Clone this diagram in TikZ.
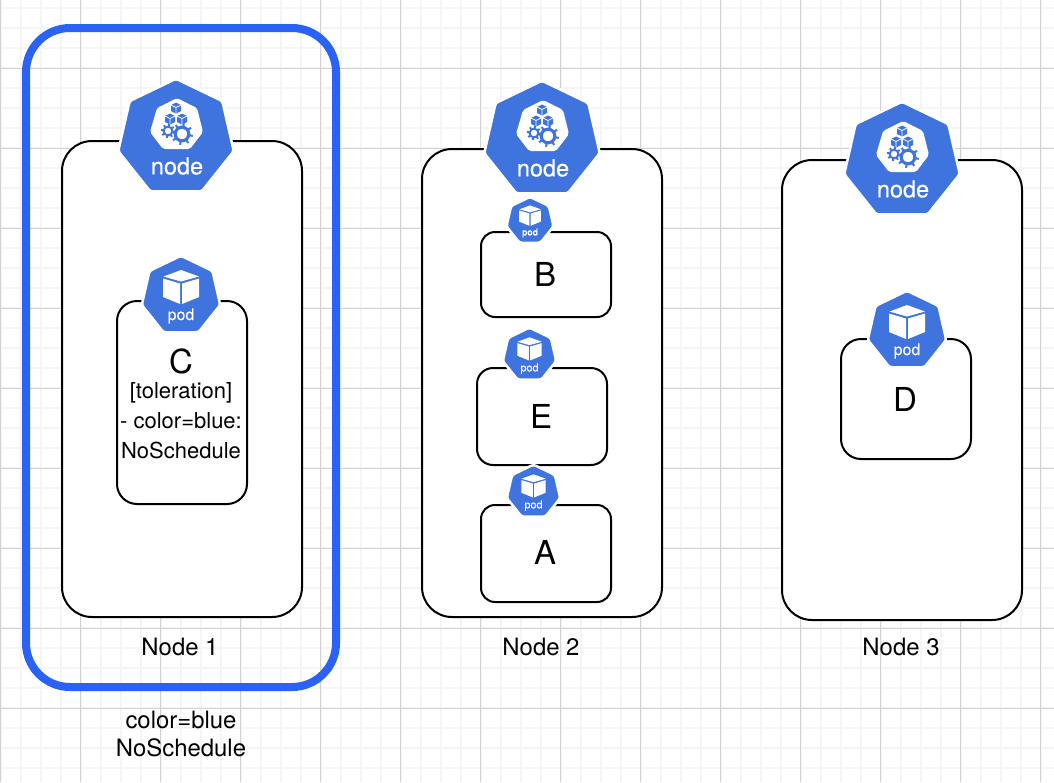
\documentclass[tikz,border=0pt]{standalone}
\usepackage{fontspec}
\setmainfont{TeX Gyre Heros}
\newfontfamily\kubefont[FakeBold=0.35]{TeX Gyre Heros}
\usetikzlibrary{shapes.geometric}
\definecolor{kubeblue}{HTML}{3F73DD}
\definecolor{taintblue}{HTML}{2A62F6}
\definecolor{gridmajor}{HTML}{D2D2D2}
\definecolor{gridminor}{HTML}{F5F5F5}
\tikzset{
  nodebox/.style={draw=black,fill=white,line width=2pt,rounded corners=30pt,minimum width=240pt,inner sep=0pt},
  podbox/.style={draw=black,fill=white,line width=2pt,rounded corners=#1,minimum width=130pt,inner sep=0pt},
  taintbox/.style={draw=taintblue,line width=8pt,rounded corners=44pt,minimum width=310pt,minimum height=659pt,inner sep=0pt},
  caption/.style={font=\fontsize{23.9}{28}\selectfont,align=center,inner sep=0pt},
  podname/.style={font=\fontsize{33}{38}\selectfont,inner sep=0pt},
  kubehex/.style={regular polygon,regular polygon sides=7,draw=white,fill=kubeblue,line width=2.5pt,rounded corners=2.5pt,inner sep=0pt,transform shape},
  kubetext/.style={text=white,inner sep=0pt,transform shape},
  smallcube/.pic={
    \fill[kubeblue] (0,-5.5) -- (5,-3) -- (5,3) -- (0,5.5) -- (-5,3) -- (-5,-3) -- cycle;
    \draw[white,line width=.7pt] (-5,-3) -- (0,-.5) -- (5,-3) (0,-.5) -- (0,5.5);
  },
  gearwheel/.pic={
    \draw[kubeblue,line width=#1*.28pt] (0,0) circle (#1*.62);
    \foreach \a in {0,45,...,315}
      \draw[kubeblue,line width=2pt] (\a+10:#1*.7) -- (\a+10:#1);
  },
  podicon/.pic={
    \node[kubehex,minimum size=80.5pt] (-hex) at (0,0) {};
    \fill[white] (0,-26) -- (-17.5,-19.5) -- (0,-14.5) -- (18,-19.5) -- cycle;
    \fill[white] (-18,-17.5) -- (-1,-12.5) -- (-1,8) -- (-18,1) -- cycle;
    \fill[white] (18,-17.5) -- (1,-12.5) -- (1,8) -- (18,1) -- cycle;
    \node[kubetext,font=\kubefont\fontsize{16}{19}\selectfont] (-label) at (0,20) {pod};
  },
  nodeicon/.pic={
    \node[kubehex,minimum size=118.5pt] (-hex) at (0,0) {};
    \fill[white,rounded corners=2pt] (1,-40) -- (21,-30) -- (27,-6) -- (14,11) -- (-13,11) -- (-26,-6) -- (-19,-30) -- cycle;
    \pic at (0,-30) {smallcube};
    \pic at (-6,-19) {smallcube};
    \pic at (6,-19) {smallcube};
    \pic at (-8,-7) {gearwheel=7};
    \pic at (6,-4) {gearwheel=11};
    \node[kubetext,font=\kubefont\fontsize{23.5}{27}\selectfont] (-label) at (1,28) {node};
  }
}
\begin{document}
\begin{tikzpicture}[x=1pt,y=-1pt]
\useasboundingbox (0,0) rectangle (1054,782);
\fill[white] (0,0) rectangle (1054,782);
\foreach \gx in {0,...,52} \draw[gridminor,line width=1.6pt] (\gx*20+.7,0) -- (\gx*20+.7,782);
\foreach \gy in {0,...,38} \draw[gridminor,line width=1.6pt] (0,\gy*20+8) -- (1054,\gy*20+8);
\foreach \gx in {0,...,13} \draw[gridmajor,line width=1pt] (\gx*80+.7,0) -- (\gx*80+.7,782);
\foreach \gy in {0,...,9} \draw[gridmajor,line width=1pt] (0,\gy*80+68) -- (1054,\gy*80+68);

\node[nodebox,minimum height=476pt] (box1) at (182,379) {};
\node[nodebox,minimum height=468pt] (box2) at (542,383) {};
\node[nodebox,minimum height=460pt] (box3) at (902,390) {};
\node[taintbox] (taint1) at (181,357.5) {};

\node[podbox=20pt,minimum height=203pt] (boxC) at (182,402.5) {};
\node[podbox=14pt,minimum height=85pt] (boxB) at (546,274.5) {};
\node[podbox=16pt,minimum height=97pt] (boxE) at (542,416.5) {};
\node[podbox=14pt,minimum height=97pt] (boxA) at (546,553.5) {};
\node[podbox=20pt,minimum height=120pt] (boxD) at (906,399) {};

\pic (icon1) at (176,138) {nodeicon};
\pic (icon2) at (542,140) {nodeicon};
\pic (icon3) at (902,161) {nodeicon};
\pic (podC) at (181,296) {podicon};
\pic[scale=.6] (podB) at (530,221) {podicon};
\pic[scale=.68] (podE) at (529.5,355) {podicon};
\pic[scale=.68] (podA) at (533.5,492) {podicon};
\pic (podD) at (907,331) {podicon};

\node[podname] (nameC) at (181,361) {C};
\node[podname] (nameB) at (545,274) {B};
\node[podname] (nameE) at (541,416) {E};
\node[podname] (nameA) at (545,552) {A};
\node[podname] (nameD) at (905,399) {D};
\node[caption,font=\fontsize{22}{30}\selectfont] (tolC) at (181,421) {[toleration]\\- color=blue:\\NoSchedule};

\node[caption] (label1) at (180,647) {Node 1};
\node[caption] (label2) at (541,647) {Node 2};
\node[caption] (label3) at (901,647) {Node 3};
\node[caption] (taintlabel) at (181,734) {color=blue\\NoSchedule};
\end{tikzpicture}
\end{document}
